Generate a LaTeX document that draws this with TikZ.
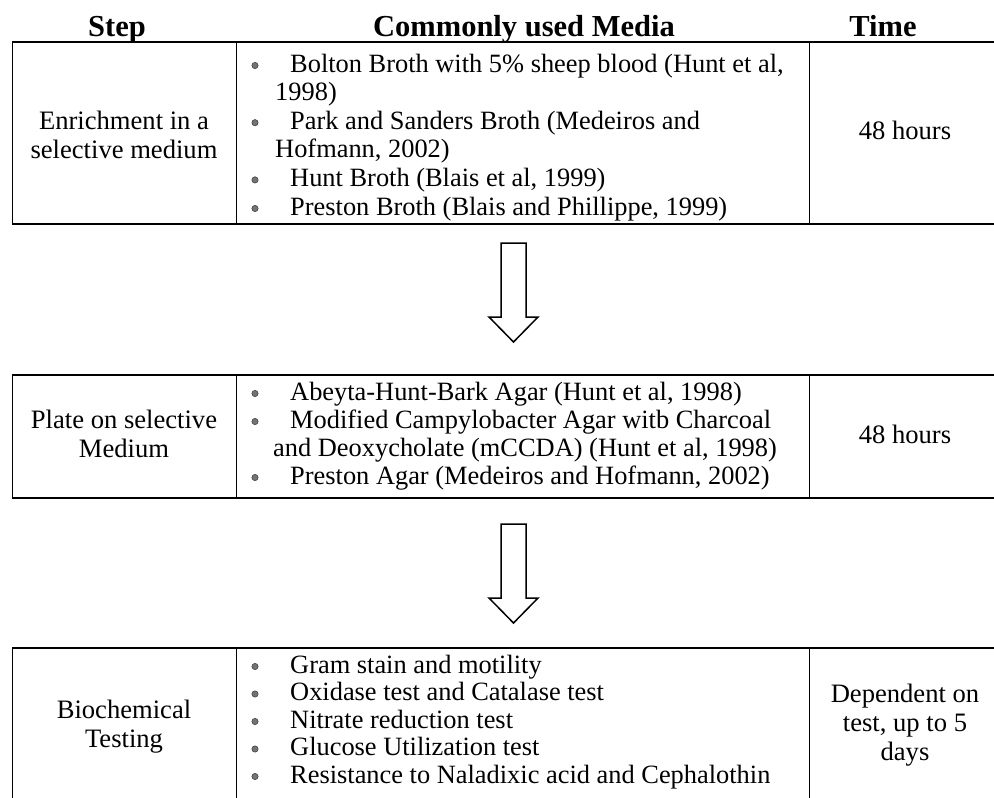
\documentclass[tikz,border=0pt]{standalone}
\usepackage{fontspec}
\setmainfont{Liberation Serif}
\newcommand\mybullet[4]{%
  \fill[bdot] (255,#3-6.5) circle (3.2);
  \node[body] (#1) at (#2,#3) {#4};}
\begin{document}
\begin{tikzpicture}[x=1pt,y=-1pt,
  body/.style={font=\fontsize{26.4}{28.6}\selectfont, inner sep=0pt, anchor=base west},
  cbody/.style={font=\fontsize{26.6}{28.6}\selectfont, inner sep=0pt, anchor=base},
  head/.style={font=\fontsize{30.5}{32}\selectfont\bfseries, inner sep=0pt, anchor=base},
  hrule/.style={line width=1.8pt},
  vrule/.style={line width=1pt},
  bdot/.style={fill=black!55, draw=black!85, line width=0.4pt},
  hollowarrow/.pic={\draw[line width=1.5pt, line join=miter, fill=white]
     (-12.5,0) -- (12.5,0) -- (12.5,#1) -- (24.5,#1) -- (0,#1+25) -- (-24.5,#1) -- (-12.5,#1) -- cycle;}]
\useasboundingbox (0,0) rectangle (994,798);

% headers
\node[head] (hstep) at (117,36) {Step};
\node[head] (hmedia) at (524,36) {Commonly used Media};
\node[head] (htime) at (883,36) {Time};

% ---------- table 1 ----------
\draw[hrule] (12,42) -- (1000,42);
\draw[hrule] (12,224) -- (1000,224);
\draw[vrule] (12,42) -- (12,224);
\draw[vrule] (236,42) -- (236,224);
\draw[vrule] (809,42) -- (809,224);
\node[cbody] (s1a) at (124,129) {Enrichment in a};
\node[cbody] (s1b) at (124,158) {selective medium};
\mybullet{m1a}{290}{72}{Bolton Broth with 5\% sheep blood (Hunt et al,}
\node[body] (m1b) at (275,100.6) {1998)};
\mybullet{m1c}{290}{129.2}{Park and Sanders Broth (Medeiros and}
\node[body] (m1d) at (275,157.8) {Hofmann, 2002)};
\mybullet{m1e}{290}{186.4}{Hunt Broth (Blais et al, 1999)}
\mybullet{m1f}{290}{215}{Preston Broth (Blais and Phillippe, 1999)}
\node[cbody] (t1) at (905,139) {48 hours};

\pic (arrA) at (513.5,243) {hollowarrow=74};

% ---------- table 2 ----------
\draw[hrule] (12,375) -- (1000,375);
\draw[hrule] (12,498) -- (1000,498);
\draw[vrule] (12,375) -- (12,498);
\draw[vrule] (236,375) -- (236,498);
\draw[vrule] (809,375) -- (809,498);
\node[cbody] (s2a) at (124,428) {Plate on selective};
\node[cbody] (s2b) at (124,457) {Medium};
\mybullet{m2a}{290}{400}{Abeyta-Hunt-Bark Agar (Hunt et al, 1998)}
\mybullet{m2b}{290}{428}{Modified Campylobacter Agar witb Charcoal}
\node[body] (m2c) at (273,456) {and Deoxycholate (mCCDA) (Hunt et al, 1998)};
\mybullet{m2d}{290}{484}{Preston Agar (Medeiros and Hofmann, 2002)}
\node[cbody] (t2) at (905,443) {48 hours};

\pic (arrB) at (513.5,524) {hollowarrow=74};

% ---------- table 3 ----------
\draw[hrule] (12,648) -- (1000,648);
\draw[vrule] (12,648) -- (12,800);
\draw[vrule] (236,648) -- (236,800);
\draw[vrule] (809,648) -- (809,800);
\node[cbody] (s3a) at (124,718) {Biochemical};
\node[cbody] (s3b) at (124,747) {Testing};
\mybullet{m3a}{290}{673}{Gram stain and motility}
\mybullet{m3b}{290}{700.5}{Oxidase test and Catalase test}
\mybullet{m3c}{290}{728}{Nitrate reduction test}
\mybullet{m3d}{290}{755.5}{Glucose Utilization test}
\mybullet{m3e}{290}{783}{Resistance to Naladixic acid and Cephalothin}
\node[cbody] (t3a) at (905,702) {Dependent on};
\node[cbody] (t3b) at (905,731) {test, up to 5};
\node[cbody] (t3c) at (905,760) {days};
\end{tikzpicture}
\end{document}
